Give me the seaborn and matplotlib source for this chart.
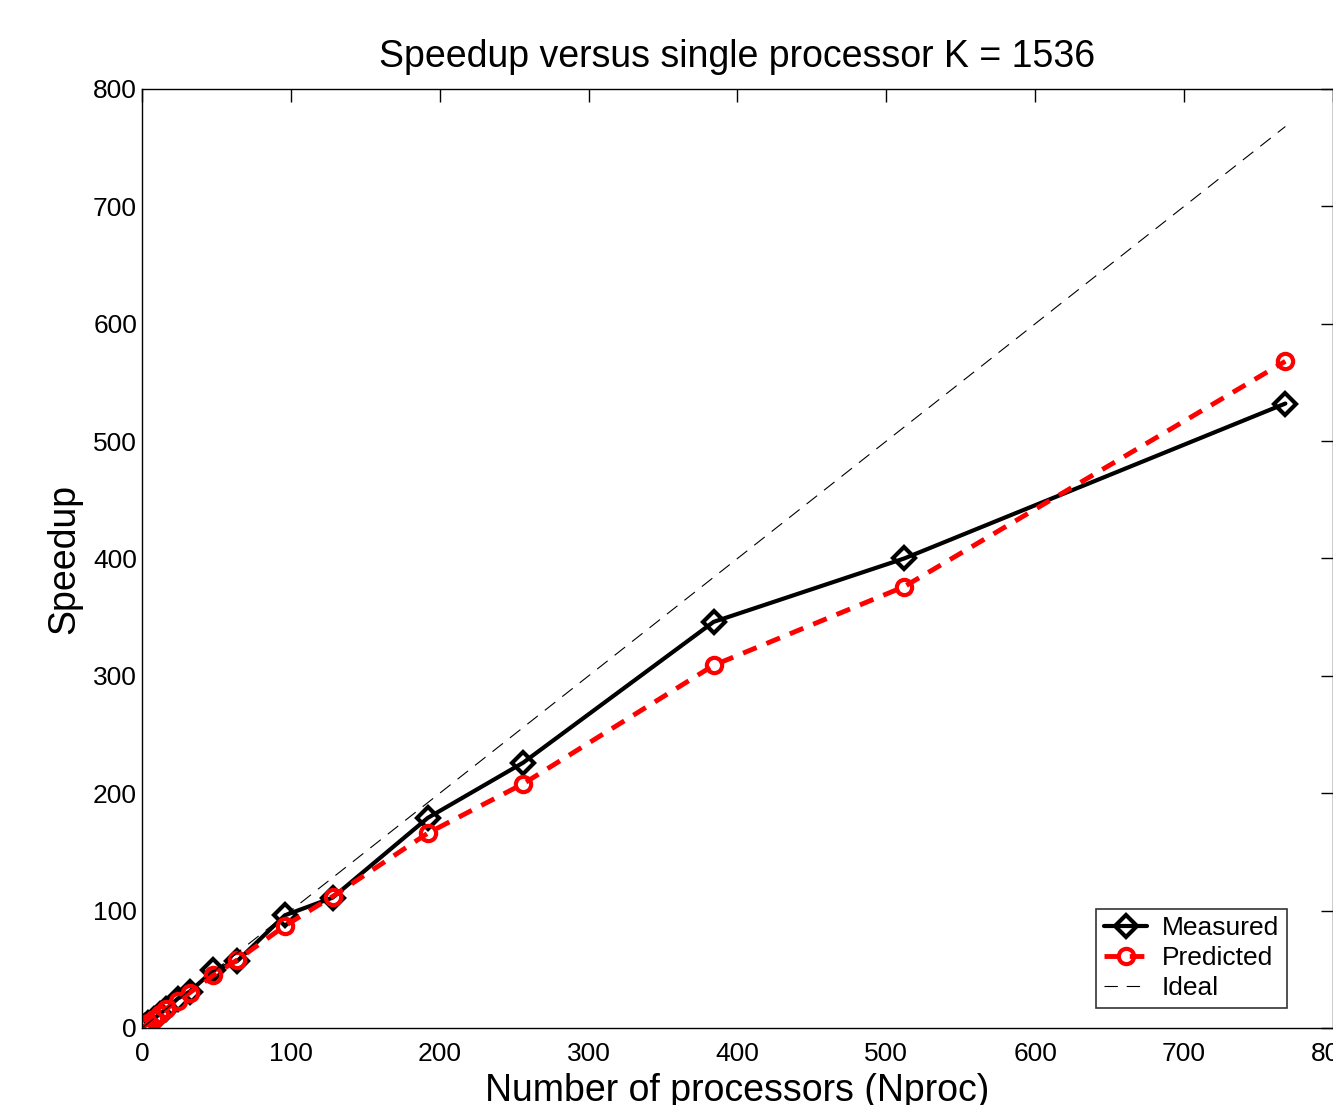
import pandas as pd
import matplotlib.pyplot as plt
import seaborn as sns

# data
nproc = [1, 2, 4, 8, 12, 16, 24, 32, 48, 64, 96, 128, 192, 256, 384, 512, 768]
measured = [1, 2, 4, 8, 12, 16, 25, 31, 49, 57, 96, 111, 179, 226, 346, 400, 532]
predicted = [1, 2, 4, 8, 12, 16, 23, 30, 45, 58, 87, 112, 166, 208, 309, 376, 568]
ideal_x = [1, 768]
ideal_y = [1, 768]

df = pd.DataFrame({'nproc': nproc, 'measured': measured, 'predicted': predicted})

sns.set_style('white')
plt.rcParams['font.family'] = ['Liberation Sans', 'DejaVu Sans']
plt.rcParams['xtick.direction'] = 'in'
plt.rcParams['ytick.direction'] = 'in'
plt.rcParams['text.color'] = 'black'
plt.rcParams['axes.labelcolor'] = 'black'

fig = plt.figure(figsize=(13.33, 11.05), dpi=100)
ax = fig.add_axes([0.1065, 0.0697, 0.8935, 0.8498])

sns.lineplot(data=df, x='nproc', y='measured', ax=ax, color='black', linewidth=3,
             marker='D', markersize=11, markerfacecolor='none',
             markeredgecolor='black', markeredgewidth=3, label='Measured')
sns.lineplot(data=df, x='nproc', y='predicted', ax=ax, color='red', linewidth=3.5,
             linestyle=(0, (3, 2.2)), marker='o', markersize=11, markerfacecolor='none',
             markeredgecolor='red', markeredgewidth=3, label='Predicted')
sns.lineplot(x=ideal_x, y=ideal_y, ax=ax, color='black', linewidth=0.8,
             linestyle=(0, (12, 8)), label='Ideal')

ax.set_xlim(0, 800)
ax.set_ylim(0, 800)
ax.set_xticks(range(0, 801, 100))
ax.set_yticks(range(0, 801, 100))
ax.tick_params(labelsize=19, length=9, width=1, top=True, right=True, colors='black')
ax.tick_params(axis='x', pad=10)
for s in ax.spines.values():
    s.set_color('black')
    s.set_linewidth(1)

ax.set_title('Speedup versus single processor K = 1536', fontsize=27, pad=16, color='black')
ax.set_xlabel('Number of processors (Nproc)', fontsize=27, labelpad=5)
ax.set_ylabel('Speedup', fontsize=27, labelpad=8)

leg = ax.legend(loc='lower right', bbox_to_anchor=(0.9614, 0.0213), fontsize=19,
                frameon=True, fancybox=False, borderaxespad=0, handlelength=1.65,
                handletextpad=0.55, borderpad=0.3, labelspacing=0.22)
leg.get_frame().set_edgecolor('black')
leg.get_frame().set_linewidth(1.2)

fig.savefig('out.png', dpi=100)
